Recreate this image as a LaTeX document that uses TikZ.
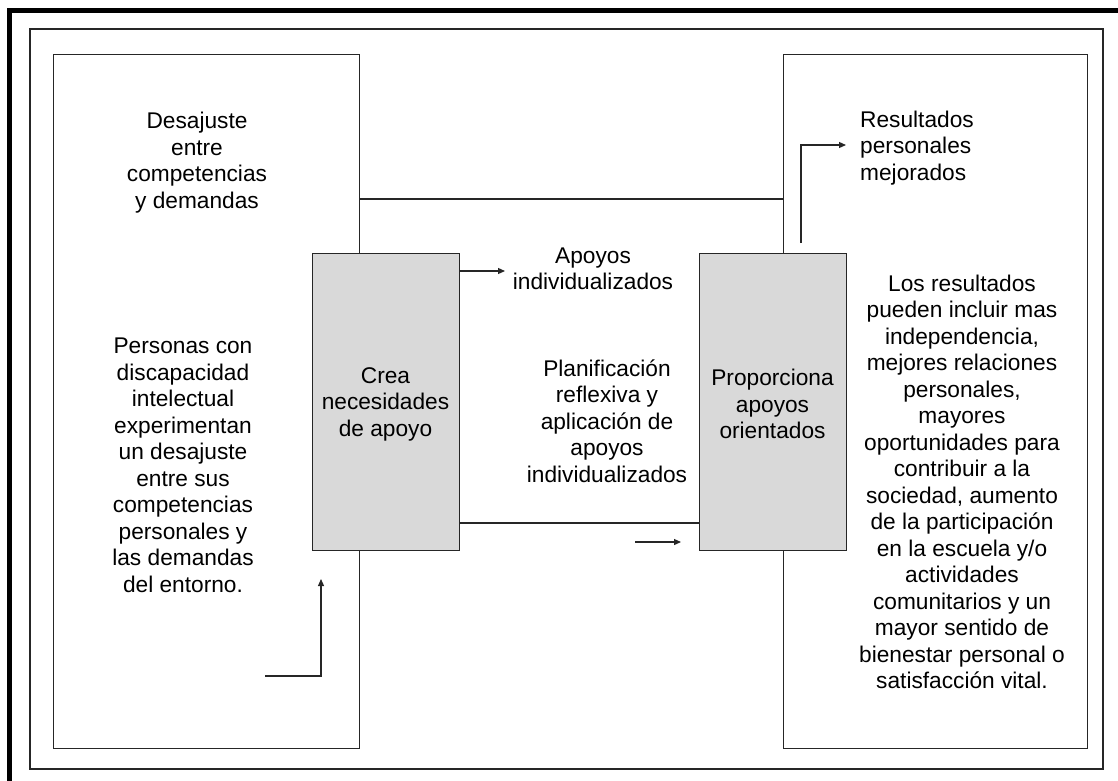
\documentclass[tikz,border=0pt]{standalone}
\usepackage{fontspec}
\setmainfont{Liberation Sans}
\usetikzlibrary{arrows.meta}
\begin{document}
\begin{tikzpicture}[x=1pt,y=-1pt,
  line/.style={draw=black!85, line width=1.2pt},
  arr/.style={line, -{Triangle[length=7pt,width=6pt]}},
  panel/.style={line, rectangle, inner sep=0pt, anchor=north west},
  graybox/.style={panel, fill=black!15},
  txt/.style={align=center, font=\fontsize{22.7}{26.5}\selectfont, text=black, inner sep=0pt},
]
\useasboundingbox (0,0) rectangle (1118,780);
% frames
\draw[line width=5pt, black] (9.5,10) rectangle (1140,800);
\draw[line, line width=1.4pt] (30,29) rectangle (1103,769);
% large panels
\node[panel, minimum width=306pt, minimum height=694pt] (lbox) at (53,54) {};
\node[panel, minimum width=304pt, minimum height=694pt] (rbox) at (783,54) {};
% top connector
\coordinate (y199) at (0,199);
\draw[line] (lbox.east |- y199) -- (rbox.west |- y199);
% gray boxes
\node[graybox, txt, minimum width=147pt, minimum height=297pt] (crea) at (312,253) {};
\node[txt] (creatxt) at (385.5,404) {Crea\\necesidades\\de apoyo};
\node[graybox, txt, minimum width=147pt, minimum height=297pt] (prop) at (699,253) {};
\node[txt] (proptxt) at (772.5,404) {Proporciona\\apoyos\\orientados};
% texts
\node[txt] (desaj) at (197,162.5) {Desajuste\\entre\\competencias\\y demandas};
\node[txt] (personas) at (183,465.5) {Personas con\\discapacidad\\intelectual\\experimentan\\un desajuste\\entre sus\\competencias\\personales y\\las demandas\\del entorno.};
\node[txt] (apoyos) at (593,269) {Apoyos\\individualizados};
\node[txt] (planif) at (607,421) {Planificación\\reflexiva y\\aplicación de\\apoyos\\individualizados};
\node[txt, align=left, anchor=west] (result) at (860,148) {Resultados\\personales\\mejorados};
\node[txt] (losres) at (962,482) {Los resultados\\pueden incluir mas\\independencia,\\mejores relaciones\\personales,\\mayores\\oportunidades para\\contribuir a la\\sociedad, aumento\\de la participación\\en la escuela y/o\\actividades\\comunitarios y un\\mayor sentido de\\bienestar personal o\\satisfacción vital.};
% connectors
\coordinate (a1) at (505,271);
\draw[arr] (crea.east |- a1) -- (a1);
\coordinate (b1) at (0,523);
\draw[line] (crea.east |- b1) -- (prop.west |- b1);
\coordinate (s1) at (635,542);
\coordinate (s2) at (681,542);
\draw[arr] (s1) -- (s2);
\coordinate (u1) at (265,676);
\coordinate (u2) at (321,579);
\draw[arr] (u1) -| (u2);
\coordinate (r1) at (801,243);
\coordinate (r2) at (846,145);
\draw[arr] (r1) |- (r2);
\end{tikzpicture}
\end{document}
